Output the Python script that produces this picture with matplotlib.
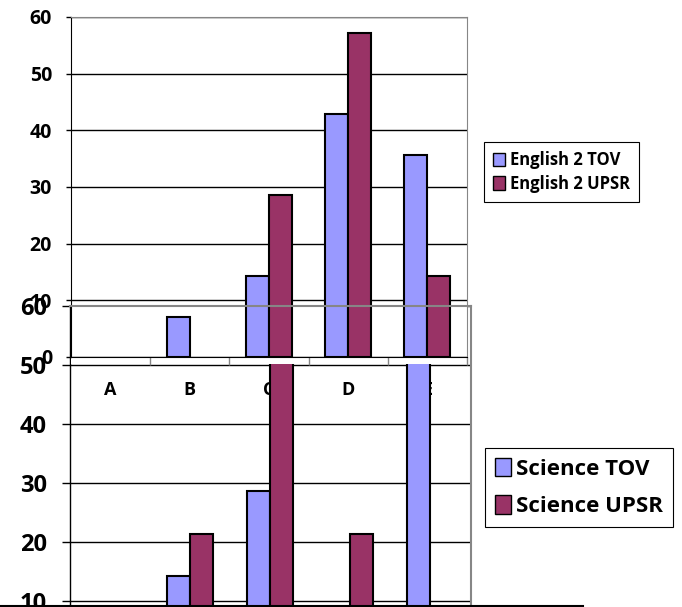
import numpy as np
import matplotlib
matplotlib.use('Agg')
import matplotlib.pyplot as plt
from matplotlib.patches import Patch
from matplotlib.lines import Line2D
from matplotlib.patches import Rectangle
from matplotlib.transforms import blended_transform_factory

plt.rcParams['font.family'] = ['Open Sans', 'DejaVu Sans']
plt.rcParams['font.weight'] = 'bold'

# data (percent of pupils per grade)
grades = ['A', 'B', 'C', 'D', 'E']
eng_tov = [0, 7.1, 14.3, 42.9, 35.7]
eng_upsr = [0, 0, 28.6, 57.1, 14.3]
sci_tov = [0, 14.3, 28.6, 0, 57.1]
sci_upsr = [0, 21.4, 57.1, 21.4, 0]

TOV = '#9999FF'
UPSR = '#993366'
GRAY = '#868686'

W, H = 682, 607


def box(l, t, r, b):
    # pixel box -> figure fraction [left, bottom, width, height]
    return [l / W, 1 - b / H, (r - l) / W, (b - t) / H]


def edge(vals):
    # no outline for empty bars
    return [1.5 if v > 0 else 0 for v in vals]


fig = plt.figure(figsize=(W / 100, H / 100), dpi=100)

x = np.arange(len(grades))
w = 0.29

# bottom chart (science) - lies under the english chart
ax2 = fig.add_axes(box(70, 306, 470, 660), zorder=1)
ax2.patch.set_visible(False)
ax2.bar(x - w / 2, sci_tov, w, color=TOV, edgecolor='black', linewidth=edge(sci_tov))
ax2.bar(x + w / 2, sci_upsr, w, color=UPSR, edgecolor='black', linewidth=edge(sci_upsr))
ax2.set_xlim(-0.5, 4.5)
ax2.set_ylim(0, 60)
ax2.set_yticks(range(10, 61, 10))
ax2.set_xticks([])
ax2.grid(axis='y', color='black', linewidth=1)
ax2.set_axisbelow(True)
for s in ['top', 'right', 'bottom']:
    ax2.spines[s].set_visible(False)
ax2.spines['left'].set_linewidth(1)
ax2.tick_params(axis='y', length=5.8, width=1, pad=11, labelsize=17)

# top chart (english)
ax1 = fig.add_axes(box(71, 17, 467, 357), zorder=2)
ax1.set_facecolor('white')
ax1.bar(x - w / 2, eng_tov, w, color=TOV, edgecolor='black', linewidth=edge(eng_tov))
ax1.bar(x + w / 2, eng_upsr, w, color=UPSR, edgecolor='black', linewidth=edge(eng_upsr))
ax1.set_xlim(-0.5, 4.5)
ax1.set_ylim(0, 60)
ax1.set_yticks(range(0, 61, 10))
ax1.set_xticks(np.arange(0.5, 5, 1))
ax1.set_xticklabels([])
ax1.grid(axis='y', color='black', linewidth=1)
ax1.set_axisbelow(True)
ax1.spines['top'].set_color(GRAY)
ax1.spines['right'].set_color(GRAY)
ax1.tick_params(axis='y', length=3.6, width=1, pad=10, labelsize=14)
ax1.tick_params(axis='x', length=5.8, width=1, color=GRAY)
# white strip under the english axis that hides the science bars
ax1.add_patch(Rectangle((0, -7 / 340), 1, 7 / 340, transform=ax1.transAxes,
                        facecolor='white', edgecolor='none', clip_on=False, zorder=0.5))

# english grade labels sit below the science bars
tr = blended_transform_factory(ax1.transData, fig.transFigure)
for i, g in enumerate(grades):
    fig.text(i, 1 - 390 / H, g, transform=tr, ha='center', va='center',
             fontsize=13, zorder=0.5)

# science frame drawn over everything
fig.add_artist(Line2D([70 / W, 471 / W], [1 - 306 / H] * 2, color=GRAY, lw=1.5, zorder=3))
fig.add_artist(Line2D([471 / W] * 2, [0, 1 - 306 / H], color=GRAY, lw=1.5, zorder=3))
fig.add_artist(Line2D([0, 583 / W], [0.8 / H] * 2, color='black', lw=1.5, zorder=3))

leg1 = fig.legend(handles=[Patch(facecolor=TOV, edgecolor='black', label='English 2 TOV'),
                           Patch(facecolor=UPSR, edgecolor='black', label='English 2 UPSR')],
                  loc='upper left', bbox_to_anchor=(484 / W, 1 - 142 / H), fontsize=12,
                  fancybox=False, edgecolor='black', framealpha=1, borderaxespad=0,
                  handlelength=0.7, handleheight=0.9, handletextpad=0.3, labelspacing=0.35,
                  borderpad=0.55)
leg1.get_frame().set_linewidth(0.8)

leg2 = fig.legend(handles=[Patch(facecolor=TOV, edgecolor='black', label='Science TOV'),
                           Patch(facecolor=UPSR, edgecolor='black', label='Science UPSR')],
                  loc='upper left', bbox_to_anchor=(485 / W, 1 - 448 / H), fontsize=16,
                  fancybox=False, edgecolor='black', framealpha=1, borderaxespad=0,
                  handlelength=0.7, handleheight=0.9, handletextpad=0.25, labelspacing=0.7,
                  borderpad=0.45)
leg2.get_frame().set_linewidth(0.8)

fig.savefig('out.png', dpi=100)
